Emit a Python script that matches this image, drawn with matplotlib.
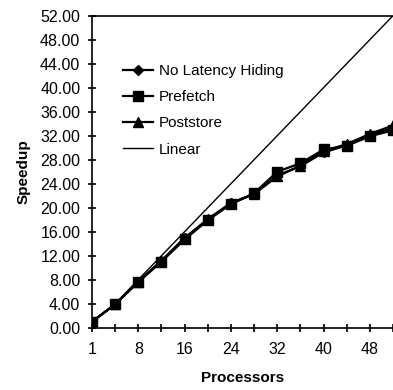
import matplotlib
matplotlib.use("Agg")
import matplotlib.pyplot as plt
import numpy as np

processors = [1, 4, 8, 12, 16, 20, 24, 28, 32, 36, 40, 44, 48, 52]
no_latency = [1.0, 3.9, 7.7, 11.1, 15.0, 18.0, 20.7, 22.3, 25.4, 26.9, 29.2, 30.4, 32.1, 33.3]
prefetch = [1.0, 3.9, 7.6, 11.0, 14.7, 17.9, 20.6, 22.4, 26.0, 27.4, 29.7, 30.3, 31.9, 32.9]
poststore = [1.0, 3.9, 7.7, 11.2, 14.9, 18.1, 20.8, 22.3, 25.2, 27.0, 29.4, 30.6, 32.3, 33.7]
linear = processors
yticks = np.arange(0, 53, 4)

plt.rcParams['font.family'] = ['Liberation Sans', 'DejaVu Sans']

fig = plt.figure(figsize=(3.93, 3.90), dpi=100)
W, H = 393, 390
left, right, top, bottom = 92, 393, 15.7, 327.7
ax = fig.add_axes([left / W, 1 - bottom / H, (right - left) / W, (bottom - top) / H])

idx = np.arange(len(processors))
ax.plot(idx, no_latency, color='black', lw=1.6, marker='D', ms=5, label='No Latency Hiding')
ax.plot(idx, prefetch, color='black', lw=1.6, marker='s', ms=7, label='Prefetch')
ax.plot(idx, poststore, color='black', lw=1.6, marker='^', ms=7, label='Poststore')
ax.plot(idx, linear, color='black', lw=1.0, label='Linear')

ax.set_xlim(0, (right - left) / 23.44)
ax.set_ylim(0, 52)
ax.set_yticks(yticks)
ax.set_yticklabels([f"{v:.2f}" for v in yticks], fontsize=11.5)
ax.set_xticks(idx)
ax.set_xticklabels([str(p) if i % 2 == 0 else "" for i, p in enumerate(processors)], fontsize=11.5)
ax.tick_params(direction='inout', length=5.8, width=1.2, color='black')
ax.tick_params(axis='x', pad=7.5)
ax.tick_params(axis='y', pad=5.5)

for s in ['left', 'bottom', 'top']:
    ax.spines[s].set_linewidth(1.2)
ax.spines['right'].set_visible(False)

ax.set_ylabel('Speedup', fontsize=11, fontweight='bold', labelpad=7)
ax.set_xlabel('Processors', fontsize=11, fontweight='bold', labelpad=10)

fig.legend(loc='upper left', bbox_to_anchor=(123 / W, 1 - 64 / H), frameon=False,
           fontsize=11, handlelength=1.96, handletextpad=0.4, labelspacing=0.8,
           borderpad=0, borderaxespad=0)

fig.savefig('out.png', dpi=100)
